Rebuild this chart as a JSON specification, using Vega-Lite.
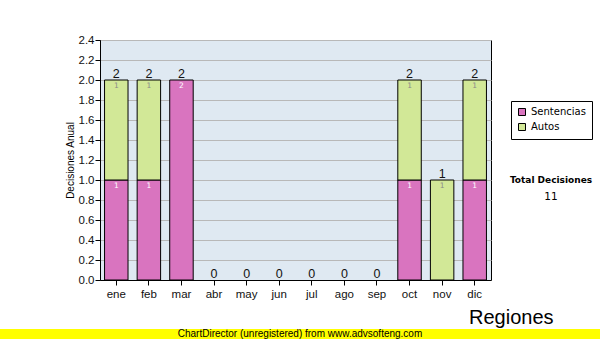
{
  "$schema": "https://vega.github.io/schema/vega-lite/v6.json",
  "padding": {"top": 33, "left": 0, "right": 0, "bottom": 0},
  "background": "white",
  "config": {
    "view": {"stroke": null},
    "font": "Liberation Sans"
  },
  "spacing": 1,
  "vconcat": [
    {
      "spacing": 0,
      "bounds": "flush",
      "resolve": {"legend": {"color": "independent"}},
      "hconcat": [
        {
          "width": 100,
          "height": 240,
          "data": {"values": [{"t": ""}]},
          "mark": {"type": "text"},
          "encoding": {"text": {"field": "t"}}
        },
        {
          "width": 391,
          "height": 240,
          "view": {"fill": "#dfe9f2", "stroke": "#000000", "strokeWidth": 1},
          "data": {
            "values": [
              {"mes": "ene", "serie": "Sentencias", "orden": 1, "valor": 1},
              {"mes": "ene", "serie": "Autos", "orden": 2, "valor": 1},
              {"mes": "feb", "serie": "Sentencias", "orden": 1, "valor": 1},
              {"mes": "feb", "serie": "Autos", "orden": 2, "valor": 1},
              {"mes": "mar", "serie": "Sentencias", "orden": 1, "valor": 2},
              {"mes": "mar", "serie": "Autos", "orden": 2, "valor": 0},
              {"mes": "abr", "serie": "Sentencias", "orden": 1, "valor": 0},
              {"mes": "abr", "serie": "Autos", "orden": 2, "valor": 0},
              {"mes": "may", "serie": "Sentencias", "orden": 1, "valor": 0},
              {"mes": "may", "serie": "Autos", "orden": 2, "valor": 0},
              {"mes": "jun", "serie": "Sentencias", "orden": 1, "valor": 0},
              {"mes": "jun", "serie": "Autos", "orden": 2, "valor": 0},
              {"mes": "jul", "serie": "Sentencias", "orden": 1, "valor": 0},
              {"mes": "jul", "serie": "Autos", "orden": 2, "valor": 0},
              {"mes": "ago", "serie": "Sentencias", "orden": 1, "valor": 0},
              {"mes": "ago", "serie": "Autos", "orden": 2, "valor": 0},
              {"mes": "sep", "serie": "Sentencias", "orden": 1, "valor": 0},
              {"mes": "sep", "serie": "Autos", "orden": 2, "valor": 0},
              {"mes": "oct", "serie": "Sentencias", "orden": 1, "valor": 1},
              {"mes": "oct", "serie": "Autos", "orden": 2, "valor": 1},
              {"mes": "nov", "serie": "Sentencias", "orden": 1, "valor": 0},
              {"mes": "nov", "serie": "Autos", "orden": 2, "valor": 1},
              {"mes": "dic", "serie": "Sentencias", "orden": 1, "valor": 1},
              {"mes": "dic", "serie": "Autos", "orden": 2, "valor": 1}
            ]
          },
          "encoding": {
            "x": {
              "field": "mes",
              "type": "ordinal",
              "sort": ["ene", "feb", "mar", "abr", "may", "jun", "jul", "ago", "sep", "oct", "nov", "dic"],
              "scale": {"paddingInner": 0.28, "paddingOuter": 0.14},
              "axis": {
                "title": null,
                "labelAngle": 0,
                "labelFont": "Liberation Sans",
                "labelFontSize": 11.5,
                "labelColor": "#111111",
                "labelPadding": 3,
                "tickSize": 5,
                "tickColor": "#000000",
                "domainColor": "#000000",
                "grid": false
              }
            }
          },
          "layer": [
            {
              "transform": [{"filter": "datum.valor > 0"}],
              "mark": {"type": "bar", "stroke": "#000000", "strokeWidth": 1, "opacity": 1},
              "encoding": {
                "y": {
                  "field": "valor",
                  "type": "quantitative",
                  "aggregate": "sum",
                  "stack": "zero",
                  "scale": {"domain": [0, 2.4], "nice": false},
                  "axis": {
                    "title": "Decisiones Anual",
                    "titleFont": "Liberation Sans",
                    "titleFontSize": 10,
                    "titleFontWeight": "normal",
                    "titleColor": "#000000",
                    "titlePadding": 3,
                    "values": [0, 0.2, 0.4, 0.6, 0.8, 1.0, 1.2, 1.4, 1.6, 1.8, 2.0, 2.2, 2.4],
                    "format": ".1f",
                    "labelFont": "Liberation Sans",
                    "labelFontSize": 11.5,
                    "labelColor": "#111111",
                    "labelPadding": 1,
                    "labelOverlap": false,
                    "tickSize": 5,
                    "tickColor": "#000000",
                    "domainColor": "#000000",
                    "gridColor": "#b8b8b8",
                    "gridWidth": 1
                  }
                },
                "color": {
                  "field": "serie",
                  "type": "nominal",
                  "scale": {"domain": ["Sentencias", "Autos"], "range": ["#d974bf", "#d2e897"]},
                  "legend": {
                    "title": null,
                    "orient": "none",
                    "legendX": 411,
                    "legendY": 61,
                    "padding": 6,
                    "strokeColor": "#000000",
                    "fillColor": "#ffffff",
                    "symbolType": "square",
                    "symbolSize": 49,
                    "symbolStrokeColor": "#000000",
                    "symbolStrokeWidth": 1,
                    "symbolOpacity": 1,
                    "labelFont": "DejaVu Sans",
                    "labelFontSize": 10,
                    "labelColor": "#000000",
                    "labelOffset": 4,
                    "rowPadding": 3
                  }
                },
                "order": {"field": "orden", "type": "quantitative"}
              }
            },
            {
              "transform": [
                {"filter": "datum.valor > 0"},
                {"stack": "valor", "groupby": ["mes"], "sort": [{"field": "orden", "order": "ascending"}], "as": ["v0", "v1"]}
              ],
              "mark": {"type": "text", "baseline": "top", "dy": 2, "font": "DejaVu Sans", "fontSize": 7.5},
              "encoding": {
                "y": {
                  "field": "v1",
                  "type": "quantitative",
                  "axis": {
                    "title": "Decisiones Anual",
                    "titleFont": "Liberation Sans",
                    "titleFontSize": 10,
                    "titleFontWeight": "normal",
                    "titleColor": "#000000",
                    "titlePadding": 3,
                    "values": [0, 0.2, 0.4, 0.6, 0.8, 1.0, 1.2, 1.4, 1.6, 1.8, 2.0, 2.2, 2.4],
                    "format": ".1f",
                    "labelFont": "Liberation Sans",
                    "labelFontSize": 11.5,
                    "labelColor": "#111111",
                    "labelPadding": 1,
                    "labelOverlap": false,
                    "tickSize": 5,
                    "tickColor": "#000000",
                    "domainColor": "#000000",
                    "gridColor": "#b8b8b8",
                    "gridWidth": 1
                  }
                },
                "text": {"field": "valor", "type": "quantitative"},
                "color": {"condition": {"test": "datum.serie == 'Sentencias'", "value": "#ffffff"}, "value": "#8a8a8a"}
              }
            },
            {
              "transform": [{"aggregate": [{"op": "sum", "field": "valor", "as": "total"}], "groupby": ["mes"]}],
              "mark": {"type": "text", "baseline": "alphabetic", "dy": -2, "font": "Liberation Sans", "fontSize": 12.5, "color": "#111111"},
              "encoding": {
                "y": {
                  "field": "total",
                  "type": "quantitative",
                  "axis": {
                    "title": "Decisiones Anual",
                    "titleFont": "Liberation Sans",
                    "titleFontSize": 10,
                    "titleFontWeight": "normal",
                    "titleColor": "#000000",
                    "titlePadding": 3,
                    "values": [0, 0.2, 0.4, 0.6, 0.8, 1.0, 1.2, 1.4, 1.6, 1.8, 2.0, 2.2, 2.4],
                    "format": ".1f",
                    "labelFont": "Liberation Sans",
                    "labelFontSize": 11.5,
                    "labelColor": "#111111",
                    "labelPadding": 1,
                    "labelOverlap": false,
                    "tickSize": 5,
                    "tickColor": "#000000",
                    "domainColor": "#000000",
                    "gridColor": "#b8b8b8",
                    "gridWidth": 1
                  }
                },
                "text": {"field": "total", "type": "quantitative"}
              }
            }
          ]
        },
        {
          "width": 109,
          "height": 240,
          "resolve": {"scale": {"y": "independent"}},
          "layer": [
            {
              "data": {"values": [{"t": "Total Decisiones", "k": "a"}]},
              "mark": {"type": "text", "baseline": "middle", "dx": 5.5, "font": "DejaVu Sans", "fontWeight": "bold", "fontSize": 9, "color": "#000000"},
              "encoding": {
                "y": {"field": "k", "type": "ordinal", "scale": {"type": "point", "domain": ["a", "b"], "range": [140, 156.5], "padding": 0}, "axis": null},
                "text": {"field": "t"}
              }
            },
            {
              "data": {"values": [{"t": "11", "k": "b"}]},
              "mark": {"type": "text", "baseline": "middle", "dx": 5.5, "font": "DejaVu Sans", "fontSize": 10.5, "color": "#000000"},
              "encoding": {
                "y": {"field": "k", "type": "ordinal", "scale": {"type": "point", "domain": ["a", "b"], "range": [140, 156.5], "padding": 0}, "axis": null},
                "text": {"field": "t"}
              }
            },
            {
              "data": {"values": [{"t": "Regiones", "k": "c"}]},
              "mark": {"type": "text", "baseline": "alphabetic", "align": "left", "dx": -76.5, "font": "Liberation Sans", "fontSize": 20, "color": "#000000"},
              "encoding": {
                "y": {"field": "k", "type": "ordinal", "scale": {"type": "point", "domain": ["c"], "range": [284, 284], "padding": 0}, "axis": null},
                "text": {"field": "t"}
              }
            }
          ]
        }
      ]
    },
    {
      "width": 600,
      "height": 10,
      "view": {"fill": "#ffff00", "stroke": null},
      "data": {"values": [{"t": "ChartDirector (unregistered) from www.advsofteng.com"}]},
      "mark": {"type": "text", "baseline": "middle", "font": "Liberation Sans", "fontSize": 10, "color": "#000000"},
      "encoding": {"text": {"field": "t"}}
    }
  ]
}
